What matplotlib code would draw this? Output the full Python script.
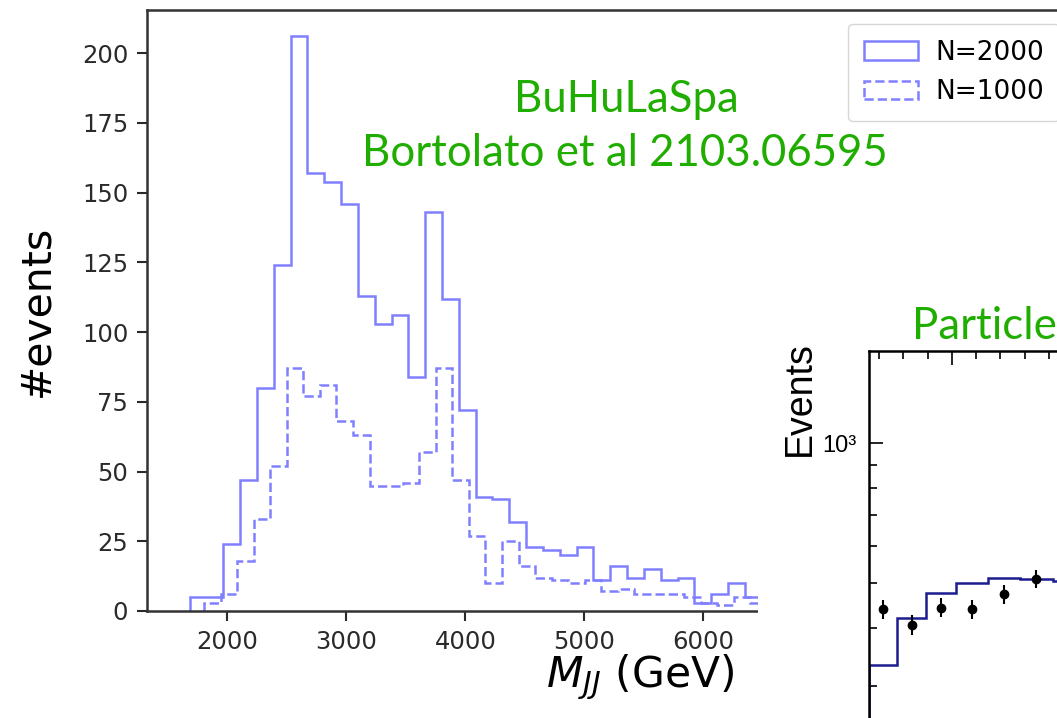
import numpy as np
import matplotlib
matplotlib.use("Agg")
from matplotlib import pyplot as plt
from matplotlib.patches import Rectangle
from matplotlib.ticker import MultipleLocator, NullFormatter, FuncFormatter

# left panel: M_JJ histograms
n2000_start, n2000_width = 1683, 141.4
n2000_counts = [5, 5, 24, 47, 80, 124, 206, 157, 154, 146, 113, 103, 106, 84, 143, 112,
                72, 41, 40, 32, 23, 22, 20, 23, 11, 16, 12, 15, 11, 12, 3, 6, 10, 5, 4]
n1000_start, n1000_width = 1804, 139.1
n1000_counts = [3, 6, 18, 33, 52, 87, 77, 81, 68, 63, 45, 45, 46, 57, 87, 47,
                27, 10, 25, 16, 12, 11, 10, 11, 7, 8, 6, 6, 6, 5, 3, 2, 5, 3]
x_ticks = [2000, 3000, 4000, 5000, 6000]
y_ticks = [0, 25, 50, 75, 100, 125, 150, 175, 200]

# right panel (cropped): particle-level comparison
part_edges = [2659, 2775, 2895, 3019, 3147, 3279, 3416, 3558]
part_mc = [333, 421, 476, 500, 514, 511, 505]
part_data = [440, 407, 443, 440, 474, 511]
part_err = [21, 20, 21, 21, 22, 23]

W, H = 1057, 718
fig = plt.figure(figsize=(W / 100, H / 100), dpi=100)
green = "#1fad00"
hist_col = "#8080ff"
spine_col = "#333333"


def px_box(x0, y0, x1, y1):
    # pixel box (top-left origin) -> figure fraction [left, bottom, width, height]
    return [x0 / W, 1 - y1 / H, (x1 - x0) / W, (y1 - y0) / H]


ax = fig.add_axes(px_box(147, 10, 1105, 611))
e2000 = n2000_start + n2000_width * np.arange(len(n2000_counts) + 1)
e1000 = n1000_start + n1000_width * np.arange(len(n1000_counts) + 1)
ax.hist(e2000[:-1], bins=e2000, weights=n2000_counts, histtype="step",
        color=hist_col, lw=1.8, label="N=2000")
ax.hist(e1000[:-1], bins=e1000, weights=n1000_counts, histtype="step",
        color=hist_col, lw=1.8, ls="--", label="N=1000")
ax.set_xlim(1325, 9375)
ax.set_ylim(0, 215.5)
ax.set_xticks(x_ticks)
ax.set_yticks(y_ticks)
for s in ax.spines.values():
    s.set_color(spine_col)
    s.set_linewidth(1.8)
ax.tick_params(direction="out", length=7, width=1.5, labelsize=17.5, pad=6.5,
               colors="#2a2a2a")
ax.set_ylabel("#events", fontsize=29.5, va="center")
ax.yaxis.set_label_coords((37 - 147) / 958, 0.5)
ax.set_xlabel("$M_{JJ}$ (GeV)", fontsize=30.5, va="center")
ax.xaxis.set_label_coords((640 - 147) / 958, (611 - 677) / 601)
ax.legend(loc="upper left", bbox_to_anchor=(848 / W, 1 - 24 / H),
          bbox_transform=fig.transFigure, borderaxespad=0, fontsize=19,
          handlelength=2.05, handletextpad=0.65, borderpad=0.6)

fig.text(626 / W, 1 - 112 / H, "BuHuLaSpa", color=green, fontsize=31.5,
         family="Lato", ha="center", va="baseline")
fig.text(625 / W, 1 - 166 / H, "Bortolato et al 2103.06595", color=green,
         fontsize=31.5, family="Lato", ha="center", va="baseline")

# white cover of the pasted second figure
cover = Rectangle((758 / W, 0), (W - 758) / W, (H - 200) / H,
                  transform=fig.transFigure, facecolor="white",
                  edgecolor="none", zorder=1)
fig.add_artist(cover)

ax2 = fig.add_axes(px_box(869, 351, 1300, 900), zorder=2)
ax2.hist(part_edges[:-1], bins=part_edges, weights=part_mc, histtype="step",
         color="#1c1c8f", lw=1.8)
centers = [(a + b) / 2 for a, b in zip(part_edges[:-1], part_edges[1:])]
ax2.errorbar(centers[:len(part_data)], part_data, yerr=part_err, fmt="o",
             color="black", ms=6, lw=1.5, capsize=0)
ax2.set_yscale("log")
ax2.set_ylim(104, 1581)
ax2.set_xlim(2659, 4433)
ax2.xaxis.set_major_locator(MultipleLocator(500))
ax2.xaxis.set_minor_locator(MultipleLocator(100))
sup = str.maketrans("0123456789-", "⁰¹²³⁴⁵⁶⁷⁸⁹⁻")
ax2.yaxis.set_major_formatter(
    FuncFormatter(lambda v, p: "10" + str(int(round(np.log10(v)))).translate(sup)))
ax2.yaxis.set_minor_formatter(NullFormatter())
for s in ax2.spines.values():
    s.set_color("black")
    s.set_linewidth(1.8)
ax2.tick_params(which="both", direction="in", top=True, right=True,
                labelbottom=False, width=1.2)
ax2.tick_params(which="major", length=10)
ax2.tick_params(which="minor", length=5.5)
ax2.tick_params(axis="y", which="major", labelsize=17, pad=9,
                labelfontfamily="Liberation Sans")
ax2.set_ylabel("Events", fontsize=27, family="Liberation Sans", va="center")
ax2.yaxis.set_label_coords((800 - 869) / 431, (900 - 399) / 549)

fig.text(912 / W, 1 - 339 / H, "Particle", color=green, fontsize=31.5,
         family="Lato", ha="left", va="baseline", zorder=3)

fig.savefig("out.png", dpi=100)
